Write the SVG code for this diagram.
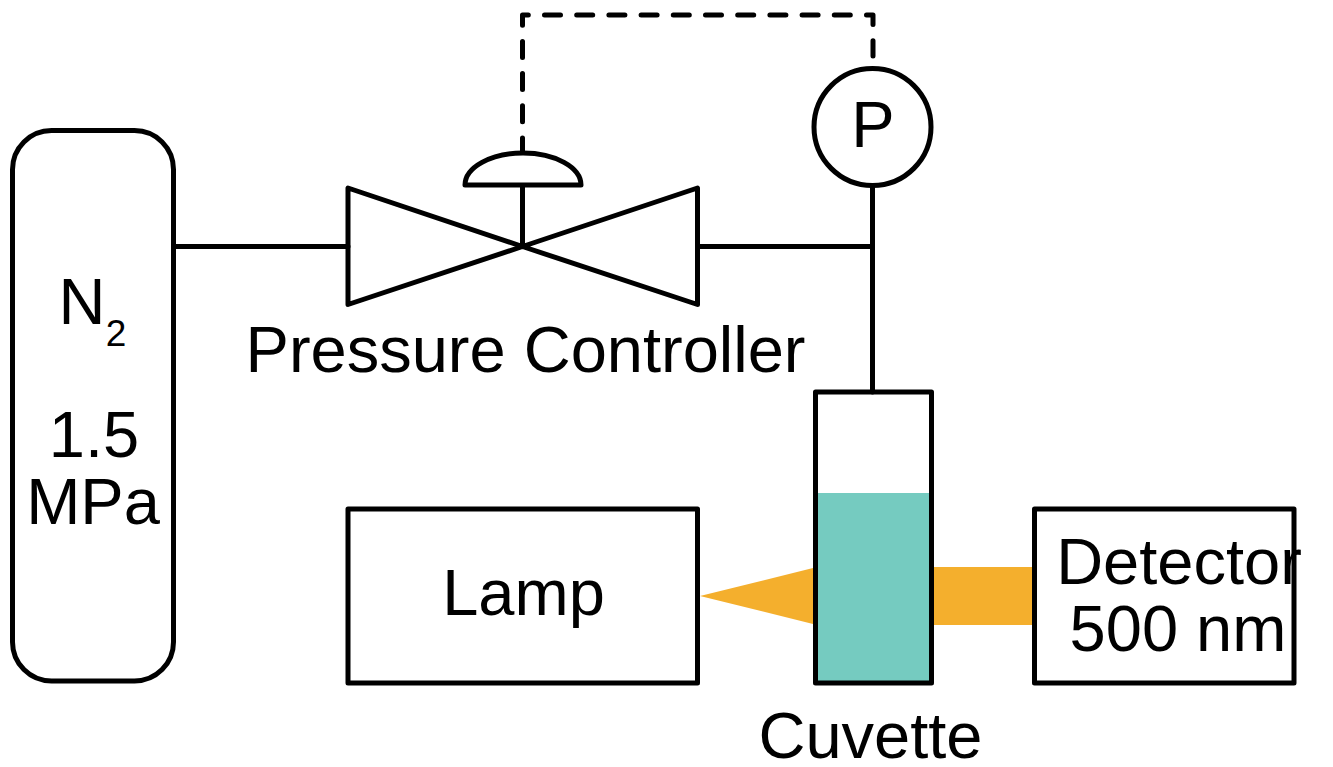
<svg xmlns="http://www.w3.org/2000/svg" width="1333" height="767" viewBox="0 0 1333 767">
<style>
.s{fill:none;stroke:#000;stroke-width:5;stroke-linejoin:round;stroke-linecap:round}
.w{fill:#fff;stroke:#000;stroke-width:5;stroke-linejoin:round}
.d{stroke-dasharray:16 16.2}
text{font-family:"Liberation Sans",Arial,sans-serif;font-size:65px;fill:#000;text-anchor:middle}
text.sub{font-size:37px}
</style>
<rect width="1333" height="767" fill="#fff"/>
<g id="connectors">
<path class="s" d="M174 246.5H348M697.5 246.5H872.5M872.5 186V392M522.5 246.5V186"/>
<path class="s d" d="M522.5 154V15H873V56"/>
</g>
<g id="n2-cylinder">
<rect class="w" x="12.5" y="130.5" width="161" height="550.5" rx="39"/>
<text x="82" y="324">N</text><text class="sub" x="116" y="346">2</text>
<text x="94" y="457">1.5</text>
<text x="93" y="524">MPa</text>
</g>
<g id="valve">
<path class="s" d="M522.5 246.5L348 188V304.5ZM522.5 246.5L697.5 188V304.5Z"/>
<path class="w" d="M465 185A58 32 0 0 1 581 185Z"/>
<text x="525.5" y="372">Pressure Controller</text>
</g>
<g id="gauge">
<circle class="w" cx="872.5" cy="127" r="58.5"/>
<text x="873" y="147">P</text>
</g>
<g id="beam">
<path d="M700 596L815 567.5V624.5Z" fill="#f4af2d"/>
<rect x="930" y="567" width="104" height="58" fill="#f4af2d"/>
</g>
<g id="lamp">
<rect class="w" x="348" y="509" width="349.5" height="174"/>
<text x="523.5" y="615">Lamp</text>
</g>
<g id="cuvette">
<rect x="815.5" y="493" width="116" height="190" fill="#75cbc0"/>
<rect class="s" x="815.5" y="392" width="116" height="291"/>
<text x="870.5" y="758">Cuvette</text>
</g>
<g id="detector">
<rect class="w" x="1034.5" y="509" width="259.5" height="174"/>
<text x="1179" y="584">Detector</text>
<text x="1178" y="651">500 nm</text>
</g>
</svg>
